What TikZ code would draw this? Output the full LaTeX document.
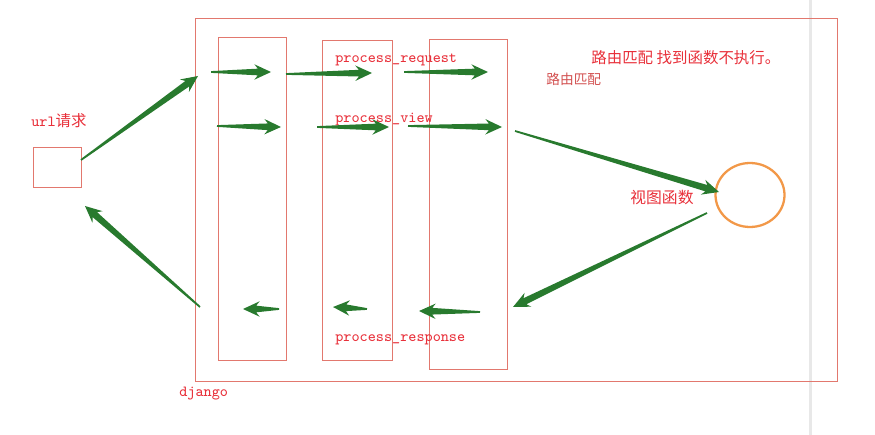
\documentclass[tikz,border=0pt]{standalone}
\usepackage{fontspec}
\newfontfamily\cjk{Noto Sans CJK SC}
\usepackage{tikz}
\usetikzlibrary{calc,shapes.geometric}
\definecolor{arrowgreen}{RGB}{40,122,46}
\definecolor{lanered}{RGB}{226,120,110}
\definecolor{textred}{RGB}{232,48,58}
\definecolor{mutedred}{RGB}{210,80,80}
\definecolor{ringorange}{RGB}{242,152,72}
\definecolor{edgegray}{RGB}{232,232,232}

\begin{document}
\begin{tikzpicture}[
  x=0.02cm, y=-0.02cm,
  lane/.style={draw=lanered, line width=0.5pt},
  lbl/.style={anchor=west, inner sep=0pt, text=textred,
              font=\fontsize{8.8}{10}\selectfont\ttfamily},
  zh/.style={anchor=west, inner sep=0pt, text=textred,
             font=\fontsize{8.8}{10}\selectfont\cjk},
  garrow/.style={fill=arrowgreen, to path={
      ($(\tikztostart)!0.5pt!90:(\tikztotarget)$)
      -- ($(\tikztotarget)!7.5pt!(\tikztostart)!1.9pt!90:(\tikztotarget)$)
      -- ($(\tikztotarget)!9.5pt!(\tikztostart)!4.4pt!90:(\tikztotarget)$)
      -- (\tikztotarget)
      -- ($(\tikztotarget)!9.5pt!(\tikztostart)!4.4pt!-90:(\tikztotarget)$)
      -- ($(\tikztotarget)!7.5pt!(\tikztostart)!1.9pt!-90:(\tikztotarget)$)
      -- ($(\tikztostart)!0.5pt!-90:(\tikztotarget)$) -- cycle}}
]
  \useasboundingbox (0,0) rectangle (875,435);

  % window edge
  \draw[edgegray, line width=1.7pt] (810,0) -- (810,435);

  % django and middleware columns
  \draw[lane] (195,18) rectangle (837,381);
  \draw[lane] (218,37) rectangle (286,360);
  \draw[lane] (322,40) rectangle (392,360);
  \draw[lane] (429,39) rectangle (507,369);

  % client and view
  \node[draw=lanered, line width=0.5pt, minimum width=0.96cm,
        minimum height=0.8cm, inner sep=0pt] (url) at (57,167) {};
  \node[ellipse, draw=ringorange, line width=1.3pt, minimum width=1.38cm,
        minimum height=1.28cm] (view) at (750,195) {};

  % labels
  \node[lbl] (urltxt) at (31,121) {url{\cjk 请求}};
  \node[lbl] (django) at (179,394) {django};
  \node[lbl] (preq)   at (335,60)  {process\_request};
  \node[lbl] (pview)  at (335,120) {process\_view};
  \node[lbl] (presp)  at (335,340) {process\_response};
  \node[zh]  (note)   at (591,58)  {路由匹配 找到函数不执行。};
  \node[zh, text=mutedred, font=\fontsize{7.8}{9}\selectfont\cjk]
             (match)  at (546,79)  {路由匹配};
  \node[zh, font=\fontsize{9}{10}\selectfont\cjk]
             (viewtxt) at (630,198) {视图函数};

  % arrow ends
  \coordinate (in0)  at (81,160);  \coordinate (in1)  at (198,76);
  \coordinate (rq0)  at (211,72);  \coordinate (rq1)  at (271,72);
  \coordinate (rq2)  at (286,74);  \coordinate (rq3)  at (372,73);
  \coordinate (rq4)  at (404,72);  \coordinate (rq5)  at (488,72);
  \coordinate (vw0)  at (217,126); \coordinate (vw1)  at (281,127);
  \coordinate (vw2)  at (317,127); \coordinate (vw3)  at (389,127);
  \coordinate (vw4)  at (408,126); \coordinate (vw5)  at (502,127);
  \coordinate (go0)  at (515,131); \coordinate (go1)  at (719,192);
  \coordinate (back0) at (707,213); \coordinate (back1) at (513,307);
  \coordinate (rs0)  at (480,312); \coordinate (rs1)  at (419,311);
  \coordinate (rs2)  at (367,309); \coordinate (rs3)  at (333,307);
  \coordinate (rs4)  at (279,309); \coordinate (rs5)  at (243,309);
  \coordinate (out0) at (200,307); \coordinate (out1) at (85,206);

  % flow
  \path[garrow] (in0) to (in1);
  \path[garrow] (rq0) to (rq1);
  \path[garrow] (rq2) to (rq3);
  \path[garrow] (rq4) to (rq5);
  \path[garrow] (vw0) to (vw1);
  \path[garrow] (vw2) to (vw3);
  \path[garrow] (vw4) to (vw5);
  \path[garrow] (go0) to (go1);
  \path[garrow] (back0) to (back1);
  \path[garrow] (rs0) to (rs1);
  \path[garrow] (rs2) to (rs3);
  \path[garrow] (rs4) to (rs5);
  \path[garrow] (out0) to (out1);
\end{tikzpicture}
\end{document}
